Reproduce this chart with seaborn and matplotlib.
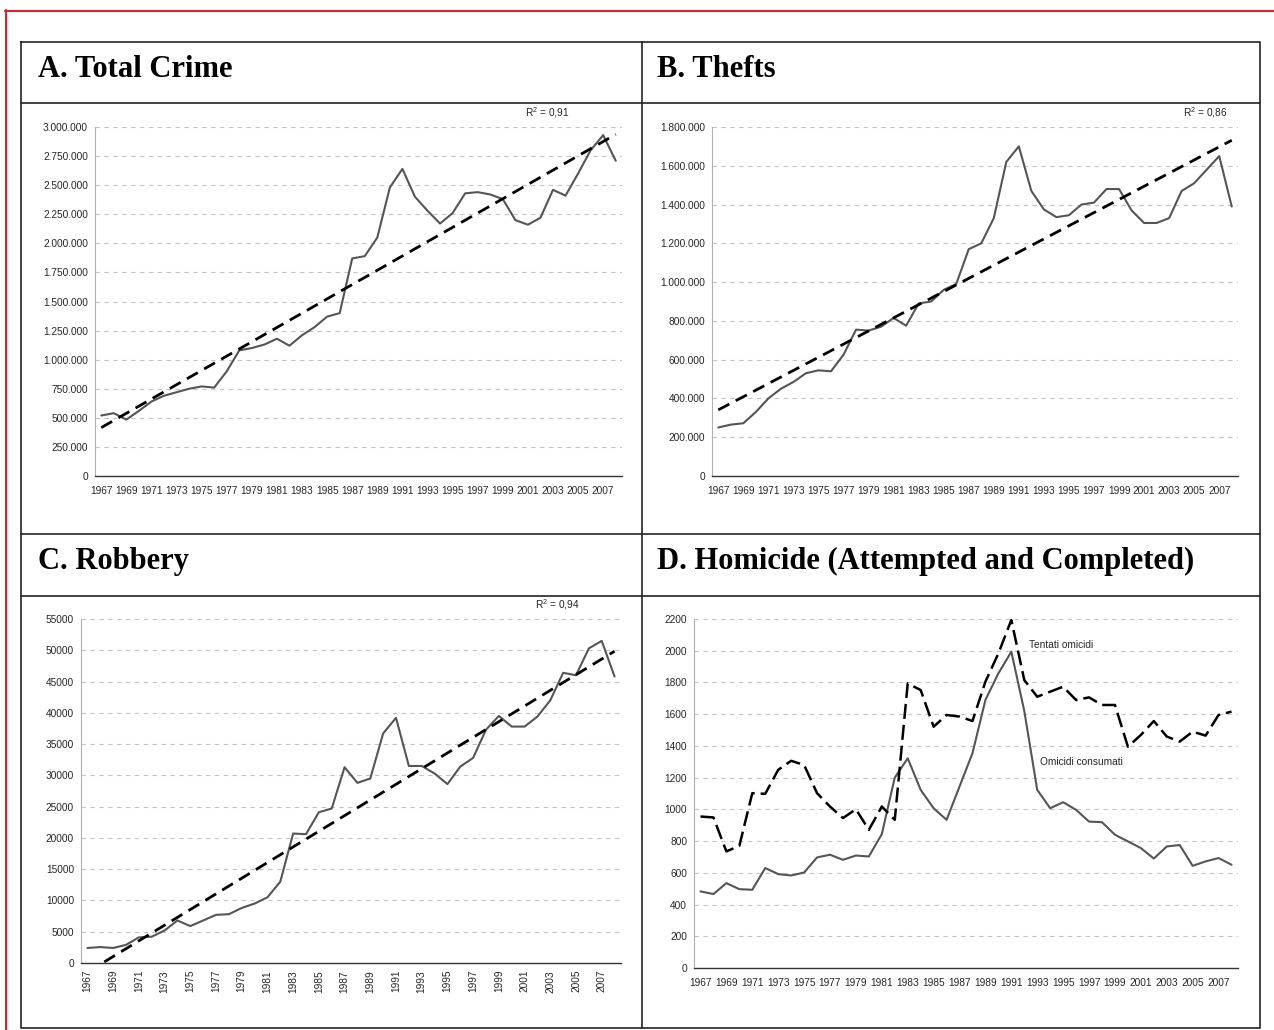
import numpy as np
import pandas as pd
import matplotlib
matplotlib.use('Agg')
import matplotlib.pyplot as plt
from matplotlib.ticker import FuncFormatter, FixedLocator
import seaborn as sns

YEARS = list(range(1967, 2009))

TOTAL_CRIME = [520000, 540000, 485000, 560000, 640000, 690000, 720000, 750000, 770000, 760000,
               900000, 1080000, 1100000, 1130000, 1180000, 1120000, 1210000, 1280000, 1370000, 1400000,
               1870000, 1890000, 2050000, 2480000, 2640000, 2400000, 2280000, 2170000, 2260000, 2430000,
               2440000, 2420000, 2380000, 2200000, 2160000, 2220000, 2460000, 2410000, 2600000, 2800000,
               2930000, 2710000]
THEFTS = [250000, 265000, 272000, 330000, 400000, 450000, 485000, 530000, 545000, 540000,
          625000, 755000, 750000, 770000, 815000, 775000, 890000, 900000, 960000, 990000,
          1170000, 1200000, 1330000, 1620000, 1700000, 1470000, 1375000, 1335000, 1345000, 1400000,
          1410000, 1480000, 1480000, 1370000, 1305000, 1305000, 1330000, 1470000, 1510000, 1580000,
          1650000, 1390000]
ROBBERY = [2400, 2550, 2400, 2900, 4100, 4200, 5200, 6800, 5900, 6800,
           7700, 7800, 8800, 9500, 10500, 13000, 20700, 20600, 24100, 24700,
           31300, 28800, 29500, 36700, 39200, 31500, 31500, 30300, 28600, 31400,
           32800, 37300, 39500, 37800, 37800, 39400, 42000, 46400, 46000, 50300,
           51500, 45800]
HOMICIDE_DONE = [483, 466, 535, 497, 493, 630, 592, 583, 602, 697,
                 714, 682, 709, 703, 844, 1200, 1322, 1123, 1007, 934,
                 1144, 1354, 1690, 1857, 1994, 1620, 1123, 1007, 1045, 997,
                 923, 919, 840, 798, 756, 690, 766, 775, 644, 672,
                 693, 651]
HOMICIDE_TRIED = [955, 949, 735, 770, 1102, 1098, 1249, 1306, 1280, 1102,
                  1018, 945, 1001, 871, 1018, 934, 1794, 1752, 1521, 1595,
                  1585, 1557, 1805, 1983, 2194, 1815, 1710, 1742, 1773, 1689,
                  1706, 1658, 1658, 1395, 1469, 1557, 1459, 1427, 1490, 1465,
                  1595, 1616]

TITLES = ['A. Total Crime', 'B. Thefts', 'C. Robbery', 'D. Homicide (Attempted and Completed)']
R2_LABELS = ['0,91', '0,86', '0,94']

W, H = 1274, 1030
sns.set_style('white')
plt.rcParams['font.family'] = ['Liberation Sans Narrow', 'Liberation Sans', 'DejaVu Sans']
plt.rcParams['mathtext.fontset'] = 'custom'
plt.rcParams['mathtext.rm'] = 'Liberation Sans'

fig = plt.figure(figsize=(W / 100, H / 100), dpi=100)

# frame, boxes and titles drawn in pixel coordinates
bg = fig.add_axes([0, 0, 1, 1])
bg.set_xlim(0, W)
bg.set_ylim(H, 0)
bg.axis('off')
red = '#c0303a'
bg.plot([5.5, 5.5], [10, H], color=red, lw=1.6)
bg.plot([5, W], [10.5, 10.5], color=red, lw=1.6)
blk = dict(color='#222222', lw=1.2)
bg.plot([21, 1260, 1260, 21, 21], [42, 42, 1028, 1028, 42], **blk)
bg.plot([642, 642], [42, 1028], **blk)
for yy in (103, 534, 596):
    bg.plot([21, 1260], [yy, yy], **blk)
title_font = dict(family=['Liberation Serif', 'DejaVu Serif'], weight='bold', size=22,
                  va='baseline', ha='left', color='black')
bg.text(38, 77, TITLES[0], **title_font)
bg.text(657, 77, TITLES[1], **title_font)
bg.text(38, 569, TITLES[2], **title_font)
bg.text(657, 569, TITLES[3], **title_font)


def make_axes(left, right, top, bottom):
    return fig.add_axes([left / W, 1 - bottom / H, (right - left) / W, (bottom - top) / H])


def dotted_thousands(v, _):
    return f'{int(round(v)):,}'.replace(',', '.')


def style_axes(ax, ymax, ystep, fmt=None, rotate=False):
    n = len(YEARS)
    ax.set_facecolor('none')
    ax.set_xlim(-0.5, n - 0.5)
    ax.set_ylim(0, ymax)
    yt = np.arange(0, ymax + ystep / 2, ystep)
    ax.set_yticks(yt)
    if fmt:
        ax.yaxis.set_major_formatter(FuncFormatter(fmt))
    else:
        ax.yaxis.set_major_formatter(FuncFormatter(lambda v, _: f'{int(round(v))}'))
    for y in yt[1:]:
        ax.axhline(y, color='#c4c4c4', lw=0.8, ls=(0, (4, 4)), zorder=0)
    pos = list(range(0, n, 2))[:21]
    ax.xaxis.set_major_locator(FixedLocator(pos))
    ax.set_xticklabels([str(YEARS[i]) for i in pos], rotation=90 if rotate else 0)
    ax.xaxis.set_minor_locator(FixedLocator(np.arange(-0.5, n, 1.0)))
    ax.tick_params(axis='x', which='major', length=0, pad=7 if not rotate else 5, labelsize=7.3)
    ax.tick_params(axis='x', which='minor', length=4, width=0.9, color='#333333', direction='out')
    ax.tick_params(axis='y', which='major', length=3, width=0.8, color='#999999', direction='out',
                   labelsize=7.3, pad=2)
    for s in ('top', 'right'):
        ax.spines[s].set_visible(False)
    ax.spines['left'].set_color('#b0b0b0')
    ax.spines['left'].set_linewidth(0.8)
    ax.spines['bottom'].set_color('#333333')
    ax.spines['bottom'].set_linewidth(1.0)
    ax.set_xlabel('')
    ax.set_ylabel('')


solid_kw = dict(color='#555555', lw=1.5)
trend_kw = dict(color='black', lw=2.0, ls=(0, (4.5, 2.6)))
idx = np.arange(len(YEARS))

panels = [
    (make_axes(95, 622, 127, 476), TOTAL_CRIME, 3000000, 250000, dotted_thousands, False, R2_LABELS[0], 547),
    (make_axes(712, 1238, 127, 476), THEFTS, 1800000, 200000, dotted_thousands, False, R2_LABELS[1], 1205),
    (make_axes(81, 621, 619, 963), ROBBERY, 55000, 5000, None, True, R2_LABELS[2], 557),
]
for ax, vals, ymax, ystep, fmt, rot, r2, r2x in panels:
    df = pd.DataFrame({'pos': idx, 'value': vals})
    sns.lineplot(data=df, x='pos', y='value', ax=ax, **solid_kw)
    sns.regplot(data=df, x='pos', y='value', ax=ax, scatter=False, ci=None, truncate=True,
                line_kws=trend_kw)
    style_axes(ax, ymax, ystep, fmt, rot)
    ax.text((r2x - ax.get_position().x0 * W) / (ax.get_position().width * W), 1.02,
            f'R$^2$ = {r2}', transform=ax.transAxes, ha='center', va='bottom', fontsize=7.3)

axd = make_axes(694, 1238, 619, 968)
dfd = pd.DataFrame({'pos': idx, 'done': HOMICIDE_DONE, 'tried': HOMICIDE_TRIED})
sns.lineplot(data=dfd, x='pos', y='done', ax=axd, **solid_kw)
sns.lineplot(data=dfd, x='pos', y='tried', ax=axd, color='black', lw=1.8, ls=(0, (6, 2.4)))
style_axes(axd, 2200, 200)
axd.text(25.4, 2036, 'Tentati omicidi', fontsize=7.3, ha='left', va='center')
axd.text(26.2, 1299, 'Omicidi consumati', fontsize=7.3, ha='left', va='center')

fig.savefig('out.png', dpi=100)
